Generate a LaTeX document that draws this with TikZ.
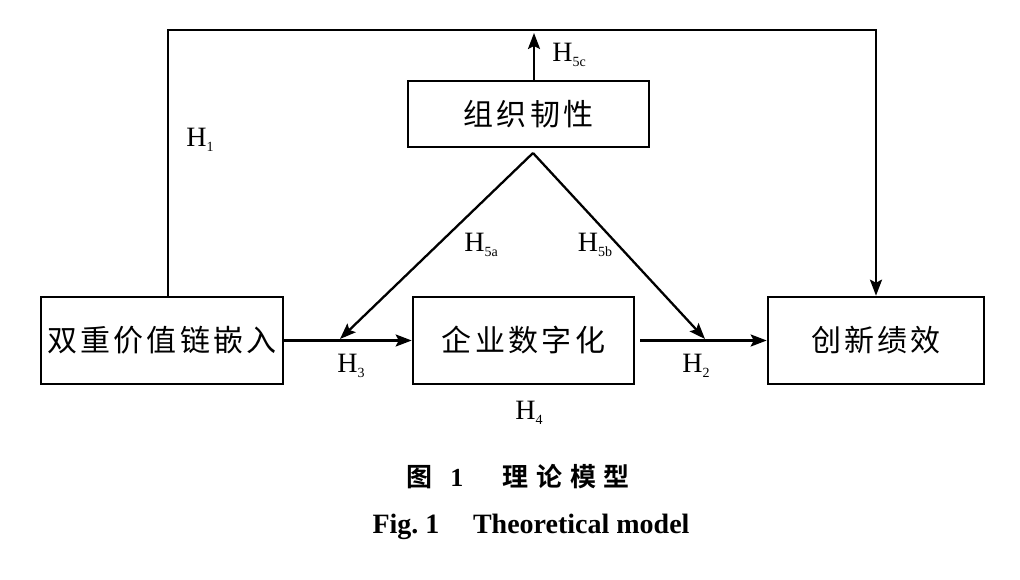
\documentclass[tikz,border=0pt]{standalone}
\usepackage{fontspec}
\setmainfont{Liberation Serif}
\newfontfamily\cjk[LetterSpace=11]{Noto Sans CJK SC}
\newfontfamily\cjkcap[LetterSpace=30]{Noto Sans CJK SC Bold}
\usetikzlibrary{arrows.meta}
\newcommand{\hyp}[1]{H\raisebox{-0.35ex}{\fontsize{14}{14}\selectfont #1}}

\begin{document}
\begin{tikzpicture}[x=1pt,y=-1pt,
  box/.style={draw,line width=2.6pt,minimum height=87pt,inner sep=0pt,
    font=\cjk\fontsize{30}{34}\selectfont},
  link/.style={line width=2.3pt},
  arr/.style={link,-{Stealth[length=16pt,width=12pt,inset=3pt]}},
  hyp/.style={font=\fontsize{28}{30}\selectfont}]
\useasboundingbox (0,0) rectangle (1020,580);
% boxes
\node[box,minimum width=242pt] (dual) at (162,340.5) {双重价值链嵌入};
\node[box,minimum width=221pt] (digit) at (523.5,340.5) {企业数字化};
\node[box,minimum width=216pt] (innov) at (876,340.5) {创新绩效};
\node[box,minimum width=241pt,minimum height=66pt] (resil) at (528.5,114) {组织韧性};
% helper points
\coordinate (tl) at (168,30);
\coordinate (peak) at (533,153);
\coordinate (m3) at (340,339);
\coordinate (m2) at (705,339);
\coordinate (c5) at (534,33);
% connectors
\draw[arr] (dual.north -| tl) -- (tl) -- (tl -| innov.north) -- (innov.north);
\draw[arr] (c5 |- resil.north) -- (c5);
\draw[arr] (peak) -- (m3);
\draw[arr] (peak) -- (m2);
\draw[arr] (dual.east) -- (digit.west);
\draw[arr] ([xshift=5pt]digit.east) -- (innov.west);
% labels
\node[hyp] (h1) at (200,140) {\hyp{1}};
\node[hyp] (h5c) at (569,55) {\hyp{5c}};
\node[hyp] (h5a) at (481,245) {\hyp{5a}};
\node[hyp] (h5b) at (595,245) {\hyp{5b}};
\node[hyp] (h3) at (351,366) {\hyp{3}};
\node[hyp] (h2) at (696,366) {\hyp{2}};
\node[hyp] (h4) at (529,413) {\hyp{4}};
% caption
\node (cap) at (518,477) {\fontsize{26}{30}\selectfont{\cjkcap 图}\hspace{0.4em}\textbf{1}\hspace{1.5em}{\cjkcap 理论模型}};
\node[font=\bfseries\fontsize{28}{32}\selectfont] (capen) at (531,527) {Fig.~1\hspace{1.2em}Theoretical model};
\end{tikzpicture}
\end{document}
